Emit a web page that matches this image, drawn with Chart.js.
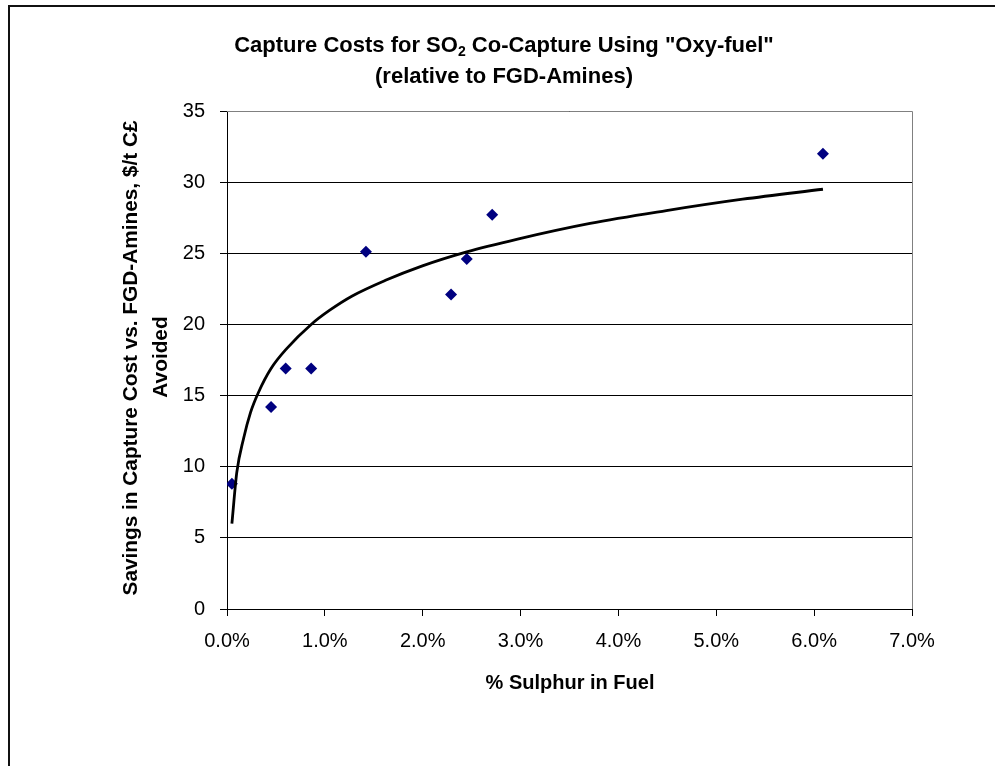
<!DOCTYPE html>
<html>
<head>
<meta charset="utf-8">
<script src="https://cdn.jsdelivr.net/npm/chart.js@4/dist/chart.umd.min.js"></script>
<style>
  html, body { margin: 0; padding: 0; background: #fff; }
  #wrap { position: relative; width: 995px; height: 766px; }
</style>
</head>
<body>
<div id="wrap"><canvas id="c" width="995" height="766"></canvas></div>
<script>
// ---- data ----
const sulphurPct = [0.05, 0.45, 0.60, 0.86, 1.42, 2.29, 2.45, 2.71, 6.09];
const savings    = [8.8, 14.2, 16.9, 16.9, 25.1, 22.1, 24.6, 27.7, 32.0];

const trendX = [0.05, 0.10, 0.17, 0.24, 0.32, 0.45, 0.61, 0.86, 1.05, 1.28, 1.62, 1.99, 2.45, 2.97, 3.71, 4.49, 5.27, 6.09];
const trendY = [6.0, 9.6, 12.0, 13.8, 15.2, 16.9, 18.3, 20.0, 21.0, 22.0, 23.1, 24.1, 25.1, 26.0, 27.1, 28.0, 28.8, 29.5];

const xTickMax = 7, xTickStep = 1;
const yTickMax = 35, yTickStep = 5;

const titleMain = 'Capture Costs for SO';
const titleSub = '2';
const titleRest = ' Co-Capture Using "Oxy-fuel"';
const titleLine2 = '(relative to FGD-Amines)';
const yTitle1 = 'Savings in Capture Cost vs. FGD-Amines, $/t C\u00A3';
const yTitle2 = 'Avoided';
const xTitle = '% Sulphur in Fuel';

const FONT = '"Liberation Sans", Arial, sans-serif';

const decor = {
  id: 'decor',
  beforeDraw(chart) {
    const ctx = chart.ctx;
    ctx.save();
    ctx.fillStyle = '#fff';
    ctx.fillRect(0, 0, chart.width, chart.height);
    // outer frame
    ctx.fillStyle = '#111';
    ctx.fillRect(8, 5, 1000, 2);
    ctx.fillRect(8, 5, 2, 800);
    ctx.restore();
  },
  afterDraw(chart) {
    const ctx = chart.ctx;
    const a = chart.chartArea;
    ctx.save();
    // top & right plot border (gray)
    ctx.strokeStyle = '#808080';
    ctx.lineWidth = 1;
    ctx.beginPath();
    ctx.moveTo(a.left, a.top + 0.5);
    ctx.lineTo(a.right + 0.5, a.top + 0.5);
    ctx.lineTo(a.right + 0.5, a.bottom);
    ctx.stroke();

    ctx.fillStyle = '#000';
    ctx.textBaseline = 'middle';
    // chart title line 1 with subscript
    const big = 'bold 22px ' + FONT;
    const small = 'bold 14px ' + FONT;
    ctx.font = big;
    const w1 = ctx.measureText(titleMain).width;
    const w3 = ctx.measureText(titleRest).width;
    ctx.font = small;
    const w2 = ctx.measureText(titleSub).width;
    const total = w1 + w2 + w3;
    const cx = 504;
    let x = cx - total / 2;
    ctx.textAlign = 'left';
    ctx.font = big;
    ctx.fillText(titleMain, x, 46);
    x += w1;
    ctx.font = small;
    ctx.fillText(titleSub, x, 52);
    x += w2;
    ctx.font = big;
    ctx.fillText(titleRest, x, 46);
    ctx.textAlign = 'center';
    ctx.fillText(titleLine2, cx, 77);

    // x title
    ctx.font = 'bold 20px ' + FONT;
    ctx.fillText(xTitle, 570, 683);

    // y title
    ctx.font = 'bold 20.8px ' + FONT;
    ctx.save();
    ctx.translate(131, 358);
    ctx.rotate(-Math.PI / 2);
    ctx.fillText(yTitle1, 0, 0);
    ctx.restore();
    ctx.save();
    ctx.translate(161, 357);
    ctx.rotate(-Math.PI / 2);
    ctx.fillText(yTitle2, 0, 0);
    ctx.restore();
    ctx.restore();
  }
};

new Chart(document.getElementById('c'), {
  type: 'scatter',
  data: {
    datasets: [
      {
        type: 'line',
        label: 'Trend',
        data: trendX.map((v, i) => ({ x: v, y: trendY[i] })),
        borderColor: '#000',
        borderWidth: 2.8,
        pointRadius: 0,
        fill: false,
        cubicInterpolationMode: 'monotone',
        order: 0
      },
      {
        label: 'Data',
        data: sulphurPct.map((v, i) => ({ x: v, y: savings[i] })),
        pointStyle: 'rectRot',
        pointRadius: 6,
        pointHoverRadius: 6,
        backgroundColor: '#000080',
        borderColor: '#000080',
        borderWidth: 0,
        order: 1
      }
    ]
  },
  options: {
    responsive: false,
    animation: false,
    events: [],
    layout: { padding: { left: 0, right: 83, top: 111, bottom: 0 } },
    plugins: { legend: { display: false }, title: { display: false }, tooltip: { enabled: false } },
    scales: {
      x: {
        type: 'linear',
        min: 0, max: xTickMax,
        afterFit(s) { s.height = 157; },
        ticks: {
          stepSize: xTickStep,
          color: '#000',
          font: { family: FONT, size: 20 },
          padding: 13,
          maxRotation: 0,
          callback: v => v.toFixed(1) + '%'
        },
        grid: { drawOnChartArea: false, drawTicks: true, tickLength: 7, color: '#000', lineWidth: 1 },
        border: { display: true, color: '#000', width: 1 }
      },
      y: {
        type: 'linear',
        min: 0, max: yTickMax,
        afterFit(s) { s.width = 227; },
        ticks: {
          stepSize: yTickStep,
          color: '#000',
          font: { family: FONT, size: 20 },
          padding: 15
        },
        grid: { drawOnChartArea: true, drawTicks: true, tickLength: 7, color: '#000', lineWidth: 1 },
        border: { display: true, color: '#000', width: 1 }
      }
    }
  },
  plugins: [decor]
});
</script>
</body>
</html>
